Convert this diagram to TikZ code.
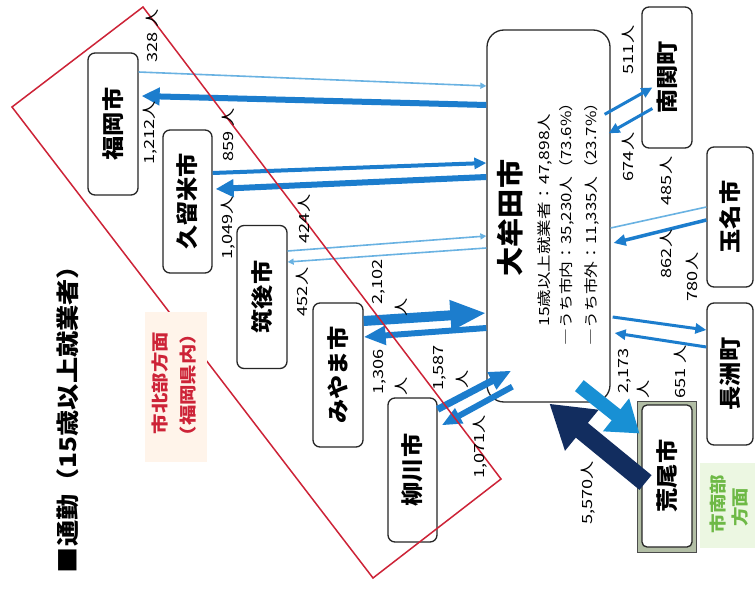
\documentclass[tikz,border=0pt]{standalone}
\usepackage{fontspec}
\usepackage{graphicx}
\usetikzlibrary{arrows.meta,calc}
\newfontfamily\jp{Noto Sans CJK JP}
\newcommand\vtxt[3]{\rotatebox{90}{\scalebox{#1}[1]{\fontsize{#2}{#2}\selectfont #3}}}
\definecolor{bl}{RGB}{28,125,205}
\definecolor{ltb}{RGB}{105,178,226}
\definecolor{nv}{RGB}{18,45,95}
\definecolor{rd}{RGB}{205,35,55}
\definecolor{gr}{RGB}{110,185,70}
\definecolor{peach}{RGB}{255,244,234}
\definecolor{lgr}{RGB}{236,247,226}
\definecolor{frame}{RGB}{178,190,165}
\begin{document}
\begin{tikzpicture}[x=1pt,y=-1pt,font=\jp,
  box/.style={draw=black!85,line width=1.3pt,rounded corners=7pt,fill=white,inner sep=0pt,font=\jp\bfseries},
  lbl/.style={inner sep=0pt},
  ar/.style={draw=bl,line cap=butt},
  thin/.style={draw=ltb,line width=1.6pt,-{Triangle[length=6pt,width=6pt]}}]
\fill[white] (0,0) rectangle (755,596);
\useasboundingbox (0,0) rectangle (755,596);

% boxes
\node[box,minimum width=50pt,minimum height=142pt] (fuk) at (113,124) {\vtxt{1.1}{22}{福岡市}};
\node[box,minimum width=49pt,minimum height=143pt] (kur) at (187.5,201.5) {\vtxt{1.1}{22}{久留米市}};
\node[box,minimum width=50pt,minimum height=143pt] (chi) at (262,297) {\vtxt{1.1}{22}{筑後市}};
\node[box,minimum width=50pt,minimum height=144pt] (miy) at (338,375) {\vtxt{1.1}{22}{みやま市}};
\node[box,minimum width=49pt,minimum height=144pt] (yan) at (412.5,470) {\vtxt{1.1}{22}{柳川市}};
\node[box,rounded corners=17pt,minimum width=123pt,minimum height=372pt] (omu) at (548.5,216) {};
\node[box,minimum width=50pt,minimum height=141pt] (nan) at (667,77.5) {\vtxt{1.1}{22}{南関町}};
\node[box,minimum width=46pt,minimum height=140pt] (tam) at (730,217) {\vtxt{1.1}{22}{玉名市}};
\node[box,minimum width=46pt,minimum height=142pt] (nag) at (730,374) {\vtxt{1.1}{22}{長洲町}};
\node[draw=black!70,line width=1pt,fill=frame,inner sep=0pt,minimum width=59pt,minimum height=151pt] (araout) at (666.5,476.5) {};
\node[box,rounded corners=5pt,minimum width=50pt,minimum height=142pt] (ara) at (667,476) {\vtxt{1.1}{22}{荒尾市}};

% arrows: Fukuoka
\draw[thin] (fuk.east |- 0,72) -- (omu.west |- 0,86);
\draw[ar,line width=6pt,-{Triangle[length=18pt,width=17pt]}] (omu.west |- 0,105) -- ($(fuk.east |- 0,96)+(3,0)$);
% Kurume
\draw[ar,line width=4pt,-{Triangle[length=12pt,width=11pt]}] (kur.east |- 0,173) -- (omu.west |- 0,163);
\draw[ar,line width=6pt,-{Triangle[length=18pt,width=17pt]}] (omu.west |- 0,177) -- ($(kur.east |- 0,189)+(3,0)$);
% Chikugo
\draw[thin] (chi.east |- 0,251) -- (omu.west |- 0,236);
\draw[thin] (omu.west |- 0,248) -- (chi.east |- 0,262);
% Miyama
\draw[ar,line width=10pt,-{Triangle[length=36pt,width=28pt]}] (miy.east |- 0,321) -- (omu.west |- 0,313);
\draw[ar,line width=6pt,-{Triangle[length=22pt,width=18pt]}] (omu.west |- 0,328) -- (miy.east |- 0,337);
% Yanagawa
\coordinate (y1s) at ($(yan.north east)+(0,12)$);
\coordinate (y1e) at ($(omu.south west)+(25,-32)$);
\coordinate (y2s) at ($(omu.south west)+(26,-16)$);
\coordinate (y2e) at ($(yan.north east)+(4,28)$);
\draw[ar,line width=7pt,-{Triangle[length=22pt,width=18pt]}] (y1s) -- (y1e);
\draw[ar,line width=6pt,-{Triangle[length=20pt,width=16pt]}] (y2s) -- (y2e);
% Nankan
\coordinate (n1s) at ($(omu.north east)+(-6,85)$);
\coordinate (n1e) at ($(nan.west)+(11,10)$);
\coordinate (n2s) at ($(nan.west)+(11,31)$);
\coordinate (n2e) at ($(omu.north east)+(-2,104)$);
\draw[ar,line width=3pt,-{Triangle[length=11pt,width=10pt]}] (n1s) -- (n1e);
\draw[ar,line width=3pt,-{Triangle[length=11pt,width=10pt]}] (n2s) -- (n2e);
% Tamana
\draw[thin,-] (omu.east |- 0,228) -- (tam.west |- 0,207);
\draw[ar,line width=3.5pt,-{Triangle[length=12pt,width=11pt]}] (tam.west |- 0,220) -- ($(omu.east |- 0,243)+(3,0)$);
% Nagasu
\draw[ar,line width=3pt,-{Triangle[length=11pt,width=10pt]}] ($(omu.east |- 0,317)+(2,0)$) -- (nag.west |- 0,330);
\draw[ar,line width=3pt,-{Triangle[length=11pt,width=10pt]}] (nag.west |- 0,347) -- ($(omu.east |- 0,333)+(4,0)$);
% Arao
\coordinate (a1s) at ($(omu.south west)+(93,-17)$);
\coordinate (a1e) at ($(araout.north west)+(3,33)$);
\coordinate (a2s) at ($(araout.west)+(9,6)$);
\coordinate (a2e) at ($(omu.south west)+(63,1)$);
\draw[draw=bl!85!cyan,line width=14pt,-{Triangle[length=30pt,width=40pt]}] (a1s) -- (a1e);
\draw[draw=nv,line width=19pt,-{Triangle[length=42pt,width=50pt]}] (a2s) -- (a2e);

% red region
\draw[rd,line width=1.5pt,line join=miter] (143,7) -- (501,479) -- (373,578) -- (12,107) -- cycle;
\fill[peach] (145,312) rectangle (207,462);
\node[lbl,text=rd,font=\jp\bfseries] (rl1) at (160,383) {\vtxt{1.2}{17}{市北部方面}};
\node[lbl,text=rd,font=\jp\bfseries] (rl2) at (188,385) {\vtxt{1.2}{17}{（福岡県内）}};
\fill[lgr] (700,463) rectangle (755,548);
\node[lbl,text=gr,font=\jp\bfseries] (gl1) at (718,504) {\vtxt{1.15}{17}{市南部}};
\node[lbl,text=gr,font=\jp\bfseries] (gl2) at (740,507) {\vtxt{1.15}{17}{方面}};

% title
\node[lbl,font=\jp\bfseries] (title) at (68,413) {\vtxt{1.14}{23}{■通勤（15歳以上就業者）}};

% Omuta text
\node[lbl,font=\jp\bfseries] (ot) at (510,218) {\vtxt{1.08}{27}{大牟田市}};
\node[lbl] (o1) at (545,220) {\vtxt{1.25}{14}{15歳以上就業者：47,898人}};
\node[lbl] (o2) at (567,220) {\vtxt{1.2}{14}{―うち市内：35,230人（73.6\%）}};
\node[lbl] (o3) at (592,220) {\vtxt{1.2}{14}{―うち市外：11,335人（23.7\%）}};

% numbers
\node[lbl] (l328) at (152,36) {\vtxt{1.3}{14}{328 人}};
\node[lbl] (l1212) at (150,133) {\vtxt{1.3}{14}{1,212人}};
\node[lbl] (l859) at (228,135) {\vtxt{1.3}{14}{859 人}};
\node[lbl] (l1049) at (228,228) {\vtxt{1.3}{14}{1,049人}};
\node[lbl] (l424) at (304,219) {\vtxt{1.3}{14}{424人}};
\node[lbl] (l452) at (302,292) {\vtxt{1.3}{14}{452人}};
\node[lbl] (l2102) at (379,282) {\vtxt{1.3}{14}{2,102}};
\node[lbl] (l2102b) at (401,307) {\vtxt{1.3}{14}{人}};
\node[lbl] (l1306) at (380,372) {\vtxt{1.3}{14}{1,306}};
\node[lbl] (l1306b) at (401,386) {\vtxt{1.3}{14}{人}};
\node[lbl] (l1587) at (440,368) {\vtxt{1.3}{14}{1,587}};
\node[lbl] (l1587b) at (462,379) {\vtxt{1.3}{14}{人}};
\node[lbl] (l1071) at (480,447) {\vtxt{1.3}{14}{1,071人}};
\node[lbl] (l511) at (628,50) {\vtxt{1.3}{14}{511人}};
\node[lbl] (l674) at (628,157) {\vtxt{1.3}{14}{674人}};
\node[lbl] (l485) at (666,181) {\vtxt{1.3}{14}{485人}};
\node[lbl] (l862) at (666,254) {\vtxt{1.3}{14}{862人}};
\node[lbl] (l780) at (692,277) {\vtxt{1.3}{14}{780人}};
\node[lbl] (l2173) at (625,371) {\vtxt{1.3}{14}{2,173}};
\node[lbl] (l2173b) at (643,389) {\vtxt{1.3}{14}{人}};
\node[lbl] (l651) at (680,372) {\vtxt{1.3}{14}{651 人}};
\node[lbl] (l5570) at (588,493) {\vtxt{1.3}{14}{5,570人}};
\end{tikzpicture}
\end{document}
